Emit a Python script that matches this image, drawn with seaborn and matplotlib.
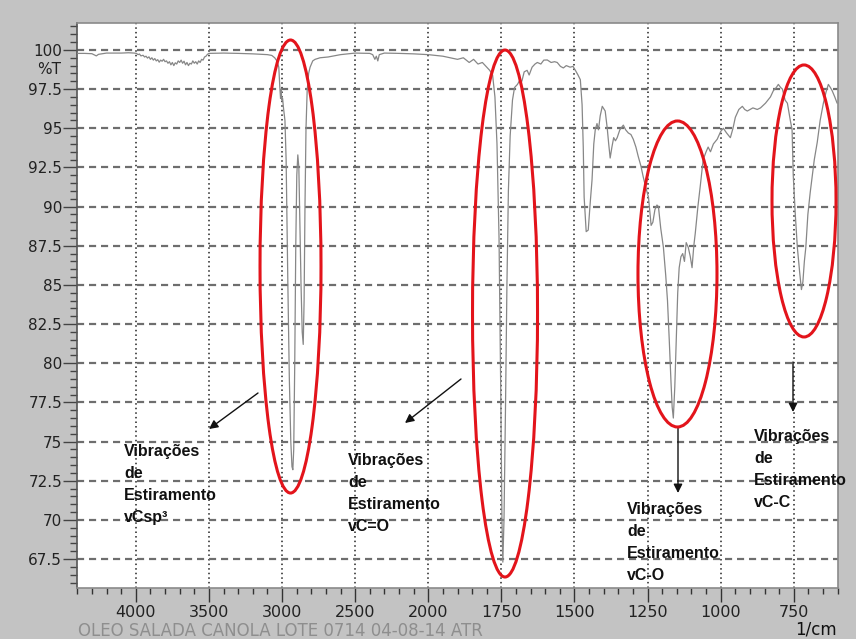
import numpy as np
import pandas as pd
import matplotlib
matplotlib.use("Agg")
import matplotlib.pyplot as plt
from matplotlib.patches import Ellipse
from matplotlib.ticker import FixedLocator, FuncFormatter
import seaborn as sns

# FTIR-ATR spectrum of canola salad oil: wavenumber (1/cm) and transmittance (%T)
wavenumber = [
    4400, 4350, 4300, 4270, 4255, 4200, 4100, 4050, 4010,
    3995, 3985, 3975, 3965, 3950, 3940, 3930, 3920, 3910, 3900, 3890, 3880,
    3870, 3860, 3850, 3840, 3830, 3820, 3810, 3800, 3790, 3780, 3770, 3760,
    3750, 3740, 3730, 3720, 3710, 3700, 3690, 3680, 3670, 3660, 3650, 3640,
    3630, 3620, 3610, 3600, 3590, 3580, 3570, 3560, 3550, 3540, 3530, 3520,
    3510, 3500, 3400, 3300, 3200, 3100, 3070, 3050, 3035, 3022,
    3015, 3010, 3006, 3002, 2996, 2990, 2980, 2972, 2966, 2960, 2950, 2940,
    2932, 2926, 2920, 2913, 2906, 2899, 2892, 2885, 2878, 2870, 2862, 2855,
    2849, 2843, 2836, 2828, 2818, 2808, 2790, 2774, 2740, 2685, 2600, 2500,
    2400, 2380, 2365, 2355, 2345, 2335, 2300, 2200, 2100, 2000,
    1950, 1900, 1880, 1860, 1845, 1830, 1815, 1800, 1790, 1780, 1772, 1765,
    1758, 1752, 1748, 1745, 1741, 1736, 1731, 1726, 1720, 1712, 1705, 1695,
    1686, 1680, 1672, 1662, 1655, 1645, 1635, 1627, 1615, 1605, 1593, 1580,
    1568, 1559, 1548, 1538, 1528, 1515, 1505, 1497, 1488, 1480, 1474, 1470,
    1467, 1460, 1453, 1446, 1440, 1434, 1429, 1423, 1418, 1412, 1405, 1395,
    1388, 1383, 1378, 1372, 1366, 1360, 1354, 1345, 1333, 1325, 1316, 1307,
    1299, 1290, 1282, 1273, 1265, 1256, 1247, 1238, 1232, 1225, 1218, 1213,
    1205, 1196, 1188, 1182, 1176, 1170, 1166, 1162, 1157, 1152, 1147, 1142,
    1136, 1130, 1124, 1118, 1111, 1104, 1098, 1092, 1087, 1078, 1070, 1060,
    1050, 1043, 1035, 1025, 1012, 1000, 991, 980, 967, 958, 950, 938, 926,
    918, 909, 890, 875, 864, 847, 830, 820, 810, 803, 795, 789, 780, 772,
    762, 756, 752, 745, 738, 730, 724, 719, 714, 709, 702, 694, 680, 670,
    660, 649, 640, 632, 625, 619, 610, 602,
]
transmittance = [
    99.78, 99.78, 99.76, 99.62, 99.72, 99.80, 99.80, 99.82, 99.80,
    99.78, 99.70, 99.74, 99.62, 99.66, 99.55, 99.60, 99.48, 99.56, 99.40, 99.50, 99.35,
    99.45, 99.30, 99.38, 99.22, 99.35, 99.28, 99.40, 99.25, 99.30, 99.15, 99.25, 99.05,
    99.20, 99.00, 99.18, 99.10, 99.30, 99.20, 99.35, 99.15, 99.28, 99.05, 99.20, 99.00,
    99.15, 99.10, 99.30, 99.15, 99.25, 99.10, 99.30, 99.20, 99.40, 99.35, 99.55, 99.60,
    99.72, 99.78, 99.80, 99.78, 99.75, 99.70, 99.65, 99.50, 99.30, 98.90,
    97.60, 96.90, 97.50, 96.80, 96.90, 96.30, 95.50, 93.00, 89.00, 85.00, 79.00, 75.00,
    73.40, 73.20, 74.50, 80.00, 87.50, 92.00, 93.30, 92.50, 89.00, 85.00, 82.00, 81.20,
    84.00, 90.00, 95.00, 97.40, 98.50, 98.90, 99.30, 99.40, 99.50, 99.55, 99.70, 99.80,
    99.78, 99.70, 99.40, 99.60, 99.30, 99.70, 99.80, 99.78, 99.75, 99.70,
    99.60, 99.40, 99.50, 99.20, 99.40, 99.10, 99.20, 98.90, 98.70, 98.40, 97.00, 94.00,
    88.00, 78.00, 70.00, 67.30, 70.00, 77.00, 85.00, 91.00, 94.50, 96.80, 97.60, 97.80,
    98.10, 98.00, 98.60, 98.70, 98.40, 98.90, 99.10, 99.20, 99.10, 99.35, 99.36, 99.20,
    99.25, 99.20, 98.95, 98.85, 99.00, 98.90, 98.95, 98.70, 98.40, 98.10, 96.50, 93.80,
    90.60, 88.40, 88.50, 90.30, 91.70, 94.00, 94.90, 95.30, 94.90, 95.80, 96.40, 96.10,
    95.00, 94.00, 93.10, 93.80, 94.40, 94.20, 94.40, 94.90, 95.20, 94.90, 94.70, 94.60,
    94.30, 93.80, 93.20, 92.60, 91.90, 91.20, 90.60, 88.80, 89.00, 89.80, 90.10, 90.00,
    88.60, 87.40, 85.60, 84.00, 81.50, 78.80, 77.20, 76.50, 78.50, 81.50, 84.50, 86.10,
    86.80, 87.00, 86.50, 87.70, 87.40, 86.80, 86.10, 87.50, 88.30, 90.00, 91.30, 93.00,
    93.50, 93.80, 93.50, 94.00, 94.30, 94.80, 95.00, 94.70, 94.40, 95.00, 95.70, 96.20, 96.40,
    96.20, 96.10, 96.30, 96.20, 96.30, 96.60, 97.00, 97.40, 97.60, 97.80, 97.60, 97.50, 96.80, 96.60,
    95.50, 94.90, 92.00, 89.50, 87.40, 85.80, 84.70, 85.20, 86.50, 87.40, 89.50, 90.90, 93.00, 94.10,
    95.50, 96.60, 97.30, 97.80, 97.60, 97.40, 97.00, 96.60,
]

x_major = [4000, 3500, 3000, 2500, 2000, 1750, 1500, 1250, 1000, 750]
y_major = [67.5, 70, 72.5, 75, 77.5, 80, 82.5, 85, 87.5, 90, 92.5, 95, 97.5, 100]

band_label = "Vibrações\nde\nEstiramento\n"
band_names = ["vCsp³", "vC=O", "vC-O", "vC-C"]
sample_caption = "OLEO SALADA CANOLA LOTE 0714 04-08-14 ATR"

spectrum = pd.DataFrame({"wavenumber": wavenumber, "transmittance": transmittance})

sns.set_theme(style="white")
plt.rcParams["font.family"] = ["DejaVu Sans"]

W, H = 856, 639
BG = "#c3c3c3"
fig = plt.figure(figsize=(W / 100, H / 100), dpi=100, facecolor=BG)
ax = fig.add_axes([77.3 / W, 1 - 588 / H, 760.4 / W, 565 / H])
ax.set_facecolor("white")


# the axis is compressed by half above 2000 1/cm, as on the instrument print-out
def fwd(w):
    w = np.asarray(w, dtype=float)
    return np.where(w > 2000, 2000 + (w - 2000) / 2, w)


def inv(u):
    u = np.asarray(u, dtype=float)
    return np.where(u > 2000, 2000 + 2 * (u - 2000), u)


ax.set_xscale("function", functions=(fwd, inv))

sns.lineplot(data=spectrum, x="wavenumber", y="transmittance", ax=ax,
             sort=False, estimator=None, color="#878787", lw=0.9, zorder=3)

ax.set_xlim(4400, 600)
ax.set_ylim(65.65, 101.72)
ax.set_xlabel("")
ax.set_ylabel("")

# ticks
x_minor = [v for v in list(range(4400, 2000, -100)) + list(range(1950, 550, -50))
           if v not in x_major]
ax.xaxis.set_major_locator(FixedLocator(x_major))
ax.xaxis.set_minor_locator(FixedLocator(x_minor))
ax.xaxis.set_major_formatter(FuncFormatter(lambda v, p: f"{v:g}"))
ax.xaxis.set_minor_formatter(FuncFormatter(lambda v, p: ""))
ax.yaxis.set_major_locator(FixedLocator(y_major))
ax.yaxis.set_minor_locator(FixedLocator(np.arange(66.0, 101.6, 0.5)))
ax.yaxis.set_major_formatter(FuncFormatter(lambda v, p: f"{v:g}"))

ax.tick_params(axis="x", which="major", direction="out", length=10, width=1.0,
               color="#333333", labelsize=11.5, labelcolor="#222222", pad=2.5, bottom=True)
ax.tick_params(axis="x", which="minor", direction="out", length=4, width=1.0,
               color="#333333", bottom=True)
ax.tick_params(axis="y", which="major", direction="out", length=10, width=1.0,
               color="#444444", labelsize=11, labelcolor="#222222", pad=1, left=True)
ax.tick_params(axis="y", which="minor", direction="out", length=5, width=1.0,
               color="#444444", left=True)

# grid: dotted verticals, dashed horizontals
for xv in x_major:
    ax.axvline(xv, color="#222222", lw=1.1, ls=(0, (1, 2)), zorder=1)
for yv in y_major:
    ax.axhline(yv, color="#6e6e6e", lw=1.6, ls=(0, (3.2, 2.2)), zorder=1)

for side, sp in ax.spines.items():
    sp.set_color("#8a8a8a")
    sp.set_linewidth(1.2)
ax.spines["left"].set_color("#555555")

# band highlights (axes fraction)
ellipses = [
    (0.2804, 0.569, 0.0802, 0.8018),
    (0.5625, 0.4858, 0.0855, 0.9327),
    (0.7893, 0.5558, 0.1039, 0.5416),
    (0.9557, 0.6850, 0.0842, 0.4814),
]
for cx, cy, ew, eh in ellipses:
    ax.add_patch(Ellipse((cx, cy), ew, eh, transform=ax.transAxes, fill=False,
                         ec="#e3141b", lw=2.2, zorder=5, clip_on=False))

# arrows (figure pixels, origin bottom-left)
arrows = [
    ((258, H - 393), (209, H - 429)),
    ((461, H - 379), (405, H - 423)),
    ((678, H - 428), (678, H - 493)),
    ((793, H - 362), (793, H - 412)),
]
for tail, head in arrows:
    ax.annotate("", xy=head, xytext=tail, xycoords="figure pixels",
                textcoords="figure pixels",
                arrowprops=dict(arrowstyle="-|>", color="#111111", lw=1.0,
                                mutation_scale=13, shrinkA=0, shrinkB=0))

# band labels, anchored on the baseline of their last line (figure pixels from top)
label_pos = [(124, 522), (348, 531), (627, 580), (754, 507)]
for (lx, ly), name in zip(label_pos, band_names):
    fig.text(lx / W, 1 - ly / H, band_label + name, ha="left", va="baseline",
             fontsize=11.5, fontweight="bold", family=["Liberation Sans", "DejaVu Sans"],
             color="#111111", linespacing=1.59, zorder=6)

fig.text(61 / W, 1 - 70 / H, "%T", ha="right", va="center", fontsize=11,
         color="#222222")
fig.text(837 / W, 1 - 630 / H, "1/cm", ha="right", va="center", fontsize=12,
         color="#111111")
fig.text(78 / W, 1 - 631 / H, sample_caption, ha="left", va="center",
         fontsize=12, color="#8e8e8e")

fig.savefig("out.png", dpi=100, facecolor=BG)
